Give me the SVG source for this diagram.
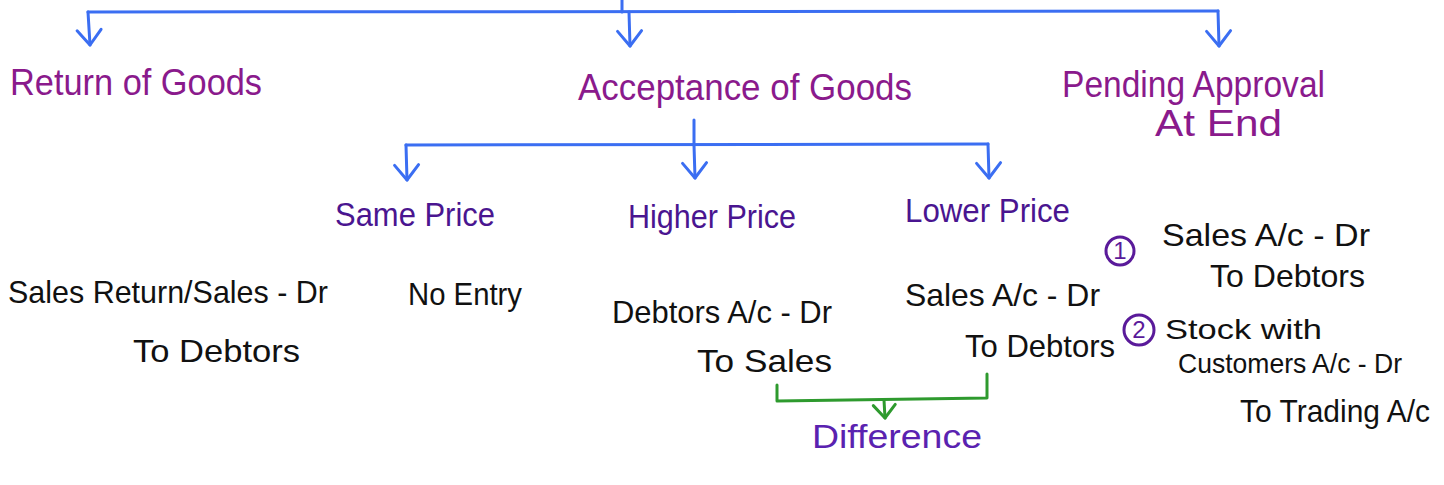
<svg xmlns="http://www.w3.org/2000/svg" width="1444" height="485" viewBox="0 0 1444 485">
  <defs>
    <style>
      .wire { fill: none; stroke-width: 3; stroke-linecap: round; stroke-linejoin: round; }
      .blue { stroke: #3b6ef2; }
      .green { stroke: #2e9a2e; }
      .t { font-family: "Liberation Sans", "DejaVu Sans", sans-serif; }
      .h1 { fill: #8a1a8c; font-size: 37px; }
      .h2 { fill: #4a1590; font-size: 34px; }
      .entry { fill: #111111; font-size: 32px; }
      .tight { font-size: 28px; }
      .diff { fill: #5a22b0; font-size: 34px; }
      .num { fill: none; stroke: #5a1a9a; stroke-width: 3; }
      .numtxt { fill: #5a1a9a; font-size: 24px; }
    </style>
    <marker id="vBlue" viewBox="-20 -20 40 40" markerWidth="40" markerHeight="40" markerUnits="userSpaceOnUse" refX="0" refY="0" orient="auto" overflow="visible">
      <path d="M-15,-12 L0,0 L-15,12" fill="none" stroke="#3b6ef2" stroke-width="3" stroke-linecap="round" stroke-linejoin="round"/>
    </marker>
    <marker id="vGreen" viewBox="-20 -20 40 40" markerWidth="40" markerHeight="40" markerUnits="userSpaceOnUse" refX="0" refY="0" orient="auto" overflow="visible">
      <path d="M-13,-11 L0,0 L-13,11" fill="none" stroke="#2e9a2e" stroke-width="3" stroke-linecap="round" stroke-linejoin="round"/>
    </marker>
  </defs>

  <rect width="1444" height="485" fill="#ffffff"/>

  <!-- connectors -->
  <g id="connectors">
    <!-- top level split -->
    <path class="wire blue" d="M622,0 L622,12"/>
    <path class="wire blue" d="M88,12 L1218,11"/>
    <path class="wire blue" d="M88,12 L90,45" marker-end="url(#vBlue)"/>
    <path class="wire blue" d="M629,12 L630,46" marker-end="url(#vBlue)"/>
    <path class="wire blue" d="M1218,11 L1219,46" marker-end="url(#vBlue)"/>
    <!-- acceptance split -->
    <path class="wire blue" d="M694,120 L694,145"/>
    <path class="wire blue" d="M406,145 L988,144"/>
    <path class="wire blue" d="M406,145 L407,180" marker-end="url(#vBlue)"/>
    <path class="wire blue" d="M694,145 L695,178" marker-end="url(#vBlue)"/>
    <path class="wire blue" d="M988,144 L989,178" marker-end="url(#vBlue)"/>
    <!-- difference bracket -->
    <path class="wire green" d="M777,385 L777,401 L987,398 L987,374"/>
    <path class="wire green" d="M884,400 L885,418" marker-end="url(#vGreen)"/>
  </g>

  <!-- first level -->
  <g id="node-return">
    <text class="t h1" x="10" y="95" textLength="252" lengthAdjust="spacingAndGlyphs">Return of Goods</text>
  </g>
  <g id="node-acceptance">
    <text class="t h1" x="578" y="100" textLength="334" lengthAdjust="spacingAndGlyphs">Acceptance of Goods</text>
  </g>
  <g id="node-pending">
    <text class="t h1" x="1062" y="97" textLength="263" lengthAdjust="spacingAndGlyphs">Pending Approval</text>
    <text class="t h1" x="1155" y="136" textLength="127" lengthAdjust="spacingAndGlyphs">At End</text>
  </g>

  <!-- second level -->
  <g id="node-same">
    <text class="t h2" x="335" y="226" textLength="160" lengthAdjust="spacingAndGlyphs">Same Price</text>
  </g>
  <g id="node-higher">
    <text class="t h2" x="628" y="228" textLength="168" lengthAdjust="spacingAndGlyphs">Higher Price</text>
  </g>
  <g id="node-lower">
    <text class="t h2" x="905" y="222" textLength="165" lengthAdjust="spacingAndGlyphs">Lower Price</text>
  </g>

  <!-- journal entries -->
  <g id="entry-return">
    <text class="t entry" x="8" y="303" textLength="320" lengthAdjust="spacingAndGlyphs">Sales Return/Sales - Dr</text>
    <text class="t entry" x="133" y="362" textLength="167" lengthAdjust="spacingAndGlyphs">To Debtors</text>
  </g>
  <g id="entry-same">
    <text class="t entry" x="408" y="305" textLength="114" lengthAdjust="spacingAndGlyphs">No Entry</text>
  </g>
  <g id="entry-higher">
    <text class="t entry" x="612" y="323" textLength="220" lengthAdjust="spacingAndGlyphs">Debtors A/c - Dr</text>
    <text class="t entry" x="697" y="372" textLength="135" lengthAdjust="spacingAndGlyphs">To Sales</text>
  </g>
  <g id="entry-lower">
    <text class="t entry" x="905" y="306" textLength="195" lengthAdjust="spacingAndGlyphs">Sales A/c - Dr</text>
    <text class="t entry" x="965" y="357" textLength="150" lengthAdjust="spacingAndGlyphs">To Debtors</text>
  </g>
  <g id="node-difference">
    <text class="t diff" x="812" y="448" textLength="170" lengthAdjust="spacingAndGlyphs">Difference</text>
  </g>

  <!-- pending approval entries -->
  <g id="entry-pending-1">
    <circle class="num" cx="1120" cy="251" r="14"/>
    <text class="t numtxt" x="1120" y="259" text-anchor="middle">1</text>
    <text class="t entry" x="1162" y="246" textLength="208" lengthAdjust="spacingAndGlyphs">Sales A/c - Dr</text>
    <text class="t entry" x="1210" y="287" textLength="155" lengthAdjust="spacingAndGlyphs">To Debtors</text>
  </g>
  <g id="entry-pending-2">
    <circle class="num" cx="1139" cy="330" r="15"/>
    <text class="t numtxt" x="1139" y="338" text-anchor="middle">2</text>
    <text class="t entry tight" x="1165" y="339" textLength="157" lengthAdjust="spacingAndGlyphs">Stock with</text>
    <text class="t entry tight" x="1178" y="373" textLength="224" lengthAdjust="spacingAndGlyphs">Customers A/c - Dr</text>
    <text class="t entry" x="1240" y="422" textLength="190" lengthAdjust="spacingAndGlyphs">To Trading A/c</text>
  </g>
</svg>
